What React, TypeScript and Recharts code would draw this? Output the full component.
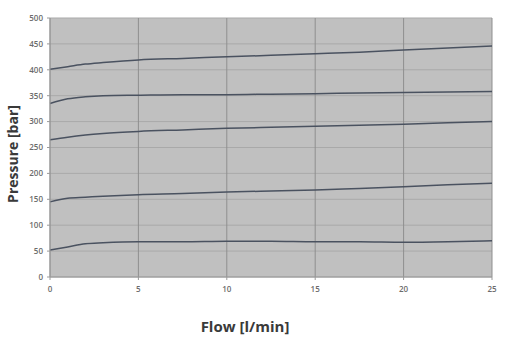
import React from "react";
import { LineChart, Line, XAxis, YAxis, CartesianGrid } from "recharts";

// flow points [l/min]
const flow = [0, 1, 2, 3, 5, 7.5, 10, 12.5, 15, 17.5, 20, 22.5, 25];

// pressure curves [bar]
const p450 = [401, 406, 411, 414, 419, 422, 425, 428, 431, 434, 438, 442, 446];
const p350 = [335, 344, 348, 350, 351, 352, 352, 353, 354, 355, 356, 357, 358];
const p300 = [265, 270, 274, 277, 281, 284, 287, 289, 291, 293, 295, 298, 300];
const p180 = [145, 152, 154, 156, 159, 161, 164, 166, 168, 171, 174, 178, 181];
const p70 = [52, 58, 64, 66, 68, 68, 69, 69, 68, 68, 67, 68, 70];

const xTicks = [0, 5, 10, 15, 20, 25];
const yTicks = [0, 50, 100, 150, 200, 250, 300, 350, 400, 450, 500];

const series = ["p450", "p350", "p300", "p180", "p70"];

const data = flow.map((f, i) => ({
  flow: f,
  p450: p450[i],
  p350: p350[i],
  p300: p300[i],
  p180: p180[i],
  p70: p70[i],
}));

const tickStyle = { fontSize: 8, fill: "#6b6b6b", fontFamily: "Open Sans", fontWeight: 600 };
const titleStyle = { fontSize: 14, fontWeight: 700, fill: "#3a3a3a", fontFamily: "Open Sans" };

const FlowLabel = () => (
  <text x={245} y={332} textAnchor="middle" style={{ ...titleStyle, fontSize: 15 }}>
    Flow [l/min]
  </text>
);

const PressureLabel = () => (
  <text x={18} y={154} textAnchor="middle" transform="rotate(-90 18 154)" style={titleStyle}>
    Pressure [bar]
  </text>
);

export default function App() {
  return (
    <div style={{ position: "absolute", left: 0, top: 0, width: 515, height: 338, background: "#fff" }}>
      <LineChart width={515} height={338} data={data} margin={{ top: 18, right: 23, left: 0, bottom: 0 }}>
        <CartesianGrid fill="#c0c0c0" stroke="#a9a9a9" vertical={false} />
        <CartesianGrid stroke="#8f8f8f" horizontal={false} />
        <XAxis
          dataKey="flow"
          type="number"
          domain={[0, 25]}
          ticks={xTicks}
          height={61}
          stroke="#9a9a9a"
          tickSize={3}
          tick={tickStyle}
          tickMargin={6}
          label={<FlowLabel />}
        />
        <YAxis
          type="number"
          domain={[0, 500]}
          ticks={yTicks}
          width={50}
          stroke="#9a9a9a"
          tickSize={3}
          tick={tickStyle}
          tickMargin={4}
          label={<PressureLabel />}
        />
        {series.map((k) => (
          <Line
            key={k}
            dataKey={k}
            type="monotone"
            stroke="#4a5260"
            strokeWidth={1.5}
            dot={false}
            isAnimationActive={false}
          />
        ))}
      </LineChart>
    </div>
  );
}
